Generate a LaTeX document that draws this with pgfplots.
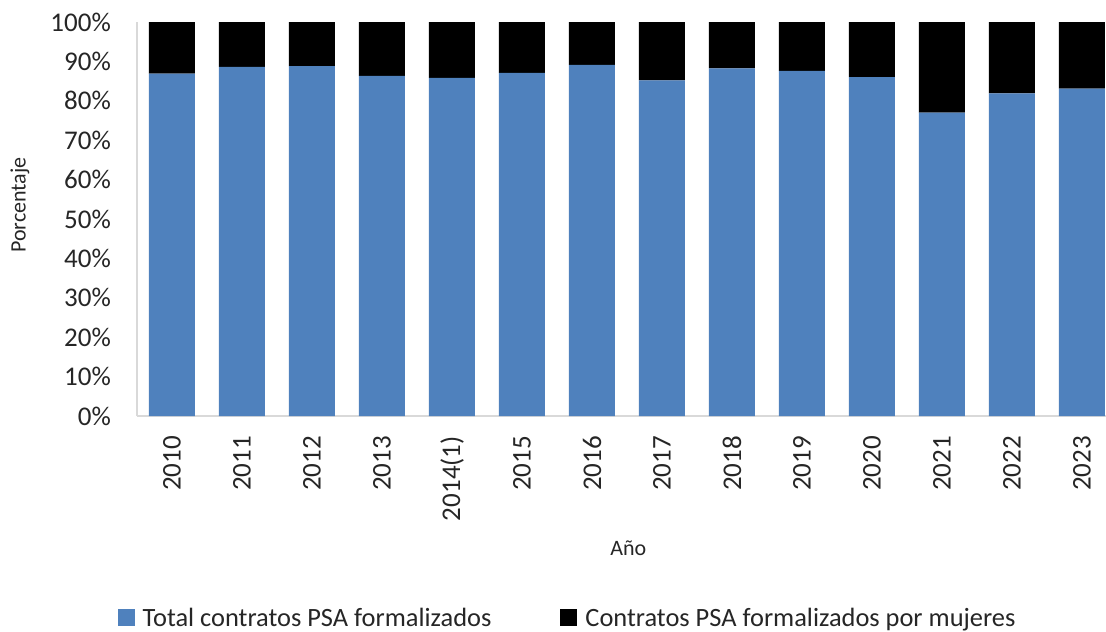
\documentclass[border=0pt]{standalone}
\usepackage{pgfplots}
\pgfplotsset{compat=1.18}
\usepackage{fontspec}
\setmainfont{Carlito}
\definecolor{bblue}{RGB}{79,129,189}
\definecolor{axgray}{RGB}{217,217,217}
\begin{document}
\begin{tikzpicture}
\begin{axis}[
  name=ax,
  scale only axis,
  width=969pt, height=394pt,
  ybar stacked, bar width=46pt,
  xmin=-0.5, xmax=13.343,
  ymin=0, ymax=100,
  xtick={0,...,13},
  xticklabels={2010,2011,2012,2013,2014(1),2015,2016,2017,2018,2019,2020,2021,2022,2023},
  ytick={0,10,...,100},
  yticklabel={\pgfmathprintnumber{\tick}\%},
  /pgf/number format/assume math mode=true,
  major tick length=0pt,
  axis x line*=bottom, axis y line*=left,
  axis line style={draw=axgray, line width=1.5pt, -},
  tick label style={font=\fontsize{27}{32}\selectfont, text=black!85},
  xticklabel style={rotate=90, anchor=east, inner sep=0pt, xshift=-20pt},
  yticklabel style={anchor=east, inner sep=0pt, xshift=-26pt},
  ylabel={Porcentaje}, xlabel={Año},
  every axis y label/.style={at={(rel axis cs:-0.1207,0.535)}, rotate=90, anchor=center,
    font=\fontsize{22}{26}\selectfont, text=black!85},
  every axis x label/.style={at={(rel axis cs:0.507,-0.335)}, anchor=center,
    font=\fontsize{22}{26}\selectfont, text=black!85},
  legend columns=2,
  legend style={draw=none, at={(rel axis cs:0.4443,-0.512)}, anchor=center,
    font=\fontsize{26.4}{31}\selectfont, text=black!85, inner sep=0pt,
    /tikz/every odd column/.append style={column sep=6pt},
    /tikz/every even column/.append style={column sep=67pt}},
  legend image code/.code={\fill[#1] (0pt,-8pt) rectangle (17pt,9pt);},
]
\addplot[fill=bblue, draw=none] coordinates {
(0,86.9) (1,88.6) (2,88.8) (3,86.3) (4,85.8) (5,87.1) (6,89.1)
(7,85.2) (8,88.2) (9,87.6) (10,86.0) (11,77.0) (12,81.9) (13,83.1)};
\addlegendentry{Total contratos PSA formalizados}
\addplot[fill=black, draw=none] coordinates {
(0,13.1) (1,11.4) (2,11.2) (3,13.7) (4,14.2) (5,12.9) (6,10.9)
(7,14.8) (8,11.8) (9,12.4) (10,14.0) (11,23.0) (12,18.1) (13,16.9)};
\addlegendentry{Contratos PSA formalizados por mujeres}
\end{axis}
\pgfresetboundingbox
\path[use as bounding box] ([xshift=-137pt,yshift=-216pt]ax.south west) rectangle ([yshift=22pt]ax.north east);
\end{tikzpicture}
\end{document}
